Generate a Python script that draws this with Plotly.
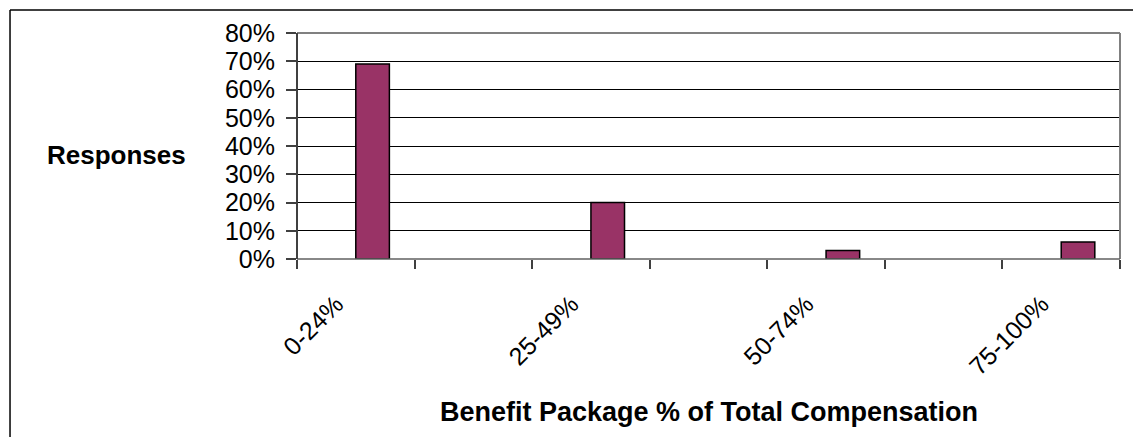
import plotly.graph_objects as go

# Survey results: share of responses per benefit-package bracket
categories = ["0-24%", "25-49%", "50-74%", "75-100%"]
responses = [0.69, 0.20, 0.03, 0.06]

# Each bracket is followed by an empty spacer slot on the category axis
slots = []
slot_values = []
for i, (cat, val) in enumerate(zip(categories, responses)):
    slots.append(cat)
    slot_values.append(val)
    if i < len(categories) - 1:
        slots.append(" " * (i + 1))
        slot_values.append(None)

FONT = "Liberation Sans, Arial, sans-serif"
# trailing no-break spaces pull the slanted labels back along their baseline
PAD = "\u00a0" * 4

fig = go.Figure(
    go.Bar(
        x=slots,
        y=slot_values,
        width=2 / 7,
        offset=0,
        marker=dict(color="#993366", line=dict(color="#000000", width=1.5)),
        hoverinfo="x+y",
    )
)

fig.update_layout(
    width=1133,
    height=437,
    margin=dict(l=297, r=13, t=33, b=178),
    paper_bgcolor="white",
    plot_bgcolor="white",
    showlegend=False,
    font=dict(family=FONT, size=25, color="#000000"),
    xaxis=dict(
        type="category",
        categoryorder="array",
        categoryarray=slots,
        labelalias={c: c + PAD for c in categories},
        tickson="boundaries",
        ticks="outside",
        ticklen=9,
        tickwidth=1.5,
        tickcolor="#404040",
        tickangle=-45,
        ticklabelstandoff=5,
        showgrid=False,
        showline=False,
        zeroline=False,
        tickfont=dict(family=FONT, size=25),
    ),
    yaxis=dict(
        range=[0, 0.8],
        dtick=0.1,
        tickformat=".0%",
        ticks="outside",
        ticklen=10,
        tickwidth=1.5,
        tickcolor="#404040",
        ticklabelstandoff=6,
        showgrid=True,
        gridcolor="#000000",
        gridwidth=1,
        showline=False,
        zeroline=False,
        tickfont=dict(family=FONT, size=25),
    ),
    shapes=[
        # plot-area frame: gray top, right and bottom edges
        dict(type="line", xref="paper", yref="paper", x0=0, x1=1, y0=1, y1=1,
             line=dict(color="#808080", width=2), layer="above"),
        dict(type="line", xref="paper", yref="paper", x0=1, x1=1, y0=0, y1=1,
             line=dict(color="#808080", width=2), layer="above"),
        dict(type="line", xref="paper", yref="paper", x0=0, x1=1, y0=0, y1=0,
             line=dict(color="#606060", width=1.5), layer="above"),
        # dark value-axis line
        dict(type="line", xref="paper", yref="paper", x0=0, x1=0, y0=0, y1=1,
             line=dict(color="#404040", width=2), layer="above"),
        # outer chart border (left and top edges)
        dict(type="line", xref="paper", yref="paper", x0=-0.3487, x1=-0.3487,
             y0=1.1018, y1=-0.85, line=dict(color="#000000", width=1.5)),
        dict(type="line", xref="paper", yref="paper", x0=-0.3487, x1=1.1,
             y0=1.1018, y1=1.1018, line=dict(color="#000000", width=1.5)),
    ],
    annotations=[
        dict(text="<b>Responses</b>", xref="paper", yref="paper",
             x=-0.1324, y=0.46, xanchor="right", yanchor="middle",
             showarrow=False, font=dict(family=FONT, size=26)),
        dict(text="<b>Benefit Package % of Total Compensation</b>",
             xref="paper", yref="paper", x=0.5, y=-0.678,
             xanchor="center", yanchor="middle", showarrow=False,
             font=dict(family=FONT, size=27)),
    ],
)

fig.write_html("out.html")
